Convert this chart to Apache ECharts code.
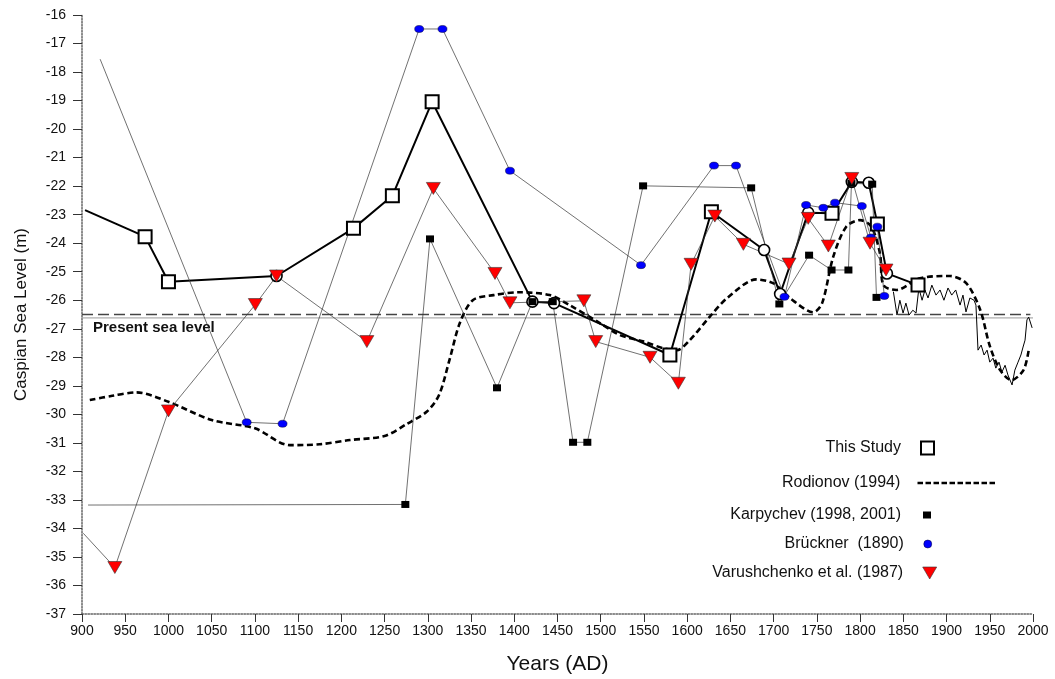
<!DOCTYPE html>
<html><head><meta charset="utf-8">
<script src="https://cdn.jsdelivr.net/npm/echarts@6/dist/echarts.min.js"></script>
<style>html,body{margin:0;padding:0;background:#fff}#chart{width:1055px;height:679px}</style>
</head><body><div id="chart"></div>
<script>
// ---------- data ----------
const yearTicks = { min: 900, max: 2000, step: 50 };
const levelTicks = { min: -37, max: -16, step: 1 };

const presentLevelDashed = -26.5;
const presentLevelThin = -26.62;

const thisStudyLeadIn = [903.5, -22.84];
const thisStudyYears  = [973, 1000, 1125, 1214, 1259, 1305, 1421, 1446, 1580, 1628, 1689, 1707.5, 1740, 1767.5, 1790.4, 1810, 1820, 1831, 1867];
const thisStudyLevels = [-23.77, -25.35, -25.15, -23.48, -22.34, -19.04, -26.05, -26.1, -27.92, -22.9, -24.24, -25.78, -22.93, -22.95, -21.85, -21.88, -23.33, -25.06, -25.47];
const thisStudyType   = ['S','S','C','S','S','S','C','C','S','S','C','C','C','S','C','C','S','C','S'];

const rodionovYears  = [909,935,963,1000,1050,1100,1140,1175,1210,1250,1275,1299,1313,1325,1337,1352,1376,1406,1441,1464,1499,1522,1550,1572,1588,1603,1626,1646,1680,1700,1719,1746,1756,1769,1784,1800,1813,1823,1827,1842,1869,1904,1923,1939,1950,1962,1975,1989,1995];
const rodionovLevels = [-29.5,-29.35,-29.23,-29.56,-30.2,-30.49,-31.08,-31.05,-30.9,-30.76,-30.35,-29.9,-29.32,-28.1,-26.8,-26.0,-25.82,-25.72,-25.82,-26.17,-26.8,-27.22,-27.45,-27.68,-27.75,-27.4,-26.58,-25.93,-25.27,-25.41,-25.93,-26.42,-26.11,-24.47,-23.42,-23.19,-23.42,-24.36,-25.47,-25.64,-25.23,-25.15,-25.41,-26.34,-27.6,-28.45,-28.8,-28.45,-27.75];

const karpychevLeadIn = [907, -33.18];
const karpychevYears  = [1274, 1302.5, 1380, 1421, 1444.5, 1468, 1484.5, 1549, 1674, 1706.6, 1741, 1767, 1786.5, 1790, 1814, 1819];
const karpychevLevels = [-33.16, -23.85, -29.07, -26.05, -26.05, -30.98, -30.98, -21.99, -22.06, -26.13, -24.42, -24.94, -24.94, -21.9, -21.93, -25.9];

const bruecknerLeadIn = [921, -17.55];
const bruecknerYears  = [1090.5, 1132, 1290, 1317, 1395, 1546.6, 1631, 1656.5, 1712.5, 1737.5, 1757.5, 1771, 1802, 1812.5, 1820, 1828];
const bruecknerLevels = [-30.28, -30.33, -16.49, -16.49, -21.46, -24.77, -21.28, -21.28, -25.88, -22.66, -22.76, -22.58, -22.7, -23.8, -23.42, -25.85];

const varushLeadIn = [901.5, -34.17];
const varushYears  = [938, 1000, 1100.5, 1125, 1229.5, 1306.4, 1377.7, 1395, 1480.5, 1494.2, 1557, 1589.8, 1604.5, 1632, 1665, 1717.8, 1740, 1763.3, 1790.4, 1811.5, 1830];
const varushLevels = [-35.37, -29.88, -26.15, -25.15, -27.45, -22.08, -25.06, -26.09, -26.02, -27.45, -28.0, -28.91, -24.74, -23.05, -24.04, -24.73, -23.13, -24.1, -21.73, -24.0, -24.94];

const instrumentalYears  = [1838.5,1842.7,1846,1849.7,1853,1856.6,1861,1864.7,1868,1871.7,1875,1878.6,1883,1887.8,1892.5,1897,1901.7,1906,1910.6,1915.6,1919,1922.5,1927,1931.8,1934,1936.4,1940,1943.4,1946.9,1950,1953.8,1957,1960.7,1964,1967.7,1971,1975.8,1979,1982.7,1986,1988.5,1990.8,1993,1995,1999];
const instrumentalLevels = [-25.7,-26.52,-26.0,-26.45,-26.1,-26.52,-26.35,-26.45,-25.57,-26.0,-25.64,-25.92,-25.47,-25.82,-25.64,-26.0,-25.57,-25.82,-25.64,-26.17,-25.82,-26.41,-25.92,-26.0,-26.17,-27.75,-27.57,-27.92,-27.75,-28.17,-28.03,-28.38,-28.17,-28.52,-28.28,-28.62,-28.97,-28.45,-28.17,-27.92,-27.64,-27.4,-26.69,-26.59,-26.97];

// ---------- build ----------
const FONT = '"Liberation Sans", Arial, sans-serif';
const zip = (xs, ys) => xs.map((x, i) => [x, ys[i]]);
const withLeadIn = (lead, xs, ys) => [{ value: lead, symbol: 'none' }].concat(zip(xs, ys));

const typeSymbol = { S: 'rect', C: 'circle' };
const typeSize = { S: 13, C: 11 };
const thisStudyData = [{ value: thisStudyLeadIn, symbol: 'none' }].concat(
  thisStudyYears.map((y, i) => ({
    value: [y, thisStudyLevels[i]],
    symbol: typeSymbol[thisStudyType[i]],
    symbolSize: typeSize[thisStudyType[i]],
    itemStyle: { borderWidth: thisStudyType[i] === 'S' ? 2 : 1.6 }
  }))
);

let dashPath = 'path://';
for (let i = 0; i < 10; i++) { const x = i * 8; dashPath += `M${x},0L${x + 5.5},0L${x + 5.5},2.5L${x},2.5Z`; }

const legendBase = {
  orient: 'vertical', align: 'right', padding: 0, selectedMode: false,
  textStyle: { fontSize: 16, color: '#111', fontFamily: FONT }
};

const chart = echarts.init(document.getElementById('chart'));
chart.setOption({
  animation: false,
  backgroundColor: '#fff',
  grid: { left: 82, right: 22, top: 15, bottom: 65, containLabel: false, outerBoundsMode: 'none' },
  xAxis: {
    type: 'value', min: yearTicks.min, max: yearTicks.max, interval: yearTicks.step,
    name: 'Years (AD)', nameLocation: 'middle', nameGap: 40,
    nameTextStyle: { fontSize: 21, color: '#111', fontFamily: FONT },
    axisLine: { show: true, onZero: false, lineStyle: { color: '#666', width: 1.5, type: 'dotted' } },
    axisTick: { show: true, length: 8, lineStyle: { color: '#333', width: 1 } },
    axisLabel: { fontSize: 14, color: '#111', fontFamily: FONT, margin: 10, formatter: v => String(v) },
    splitLine: { show: false }
  },
  yAxis: {
    type: 'value', min: levelTicks.min, max: levelTicks.max, interval: levelTicks.step,
    name: 'Caspian Sea Level (m)', nameLocation: 'middle', nameGap: 52, nameRotate: 90,
    nameTextStyle: { fontSize: 17, color: '#111', fontFamily: FONT },
    axisLine: { show: true, onZero: false, lineStyle: { color: '#666', width: 1.5, type: 'dotted' } },
    axisTick: { show: true, length: 9, lineStyle: { color: '#333', width: 1 } },
    axisLabel: { fontSize: 14, color: '#111', fontFamily: FONT, margin: 16, formatter: v => String(v) },
    splitLine: { show: false }
  },
  legend: [
    Object.assign({}, legendBase, { right: 120, top: 440, itemWidth: 43, itemHeight: 13,
      data: [{ name: 'This Study', icon: 'path://M0,0L10,0L10,10L0,10Z', itemStyle: { color: '#fff', borderColor: '#000', borderWidth: 2 } }] }),
    Object.assign({}, legendBase, { right: 60, top: 475, itemWidth: 102, itemHeight: 2.5,
      data: [{ name: 'Rodionov (1994)', icon: dashPath, itemStyle: { color: '#000', borderWidth: 0 } }] }),
    Object.assign({}, legendBase, { right: 124, top: 507, itemWidth: 42, itemHeight: 7,
      data: [{ name: 'Karpychev (1998, 2001)', icon: 'path://M0,0L8,0L8,7L0,7Z', itemStyle: { color: '#000', borderWidth: 0 } }] }),
    Object.assign({}, legendBase, { right: 123, top: 536, itemWidth: 38, itemHeight: 8,
      data: [{ name: 'Brückner  (1890)', icon: 'circle', itemStyle: { color: '#0000ff', borderColor: '#000033', borderWidth: 0.5 } }] }),
    Object.assign({}, legendBase, { right: 118, top: 565, itemWidth: 43, itemHeight: 12,
      data: [{ name: 'Varushchenko et al. (1987)', icon: 'path://M0,0L14,0L7,12Z', itemStyle: { color: '#ff0000', borderColor: '#333', borderWidth: 0.6 } }] })
  ],
  graphic: [{
    type: 'text', left: 93, top: 320,
    style: { text: 'Present sea level', fontSize: 15, fontWeight: 'bold', fill: '#111', fontFamily: FONT }
  }],
  series: [
    { name: 'present-thin', type: 'line', symbol: 'none', silent: true,
      data: [[yearTicks.min, presentLevelThin], [yearTicks.max, presentLevelThin]],
      lineStyle: { color: '#999', width: 1 } },
    { name: 'present-dashed', type: 'line', symbol: 'none', silent: true,
      data: [[yearTicks.min, presentLevelDashed], [1997, presentLevelDashed]],
      lineStyle: { color: '#444', width: 1.6, type: [11, 5] } },
    { name: 'instrumental', type: 'line', symbol: 'none',
      data: zip(instrumentalYears, instrumentalLevels),
      lineStyle: { color: '#000', width: 1 } },
    { name: 'Rodionov (1994)', type: 'line', symbol: 'none', smooth: 0.3,
      data: zip(rodionovYears, rodionovLevels),
      lineStyle: { color: '#000', width: 2.6, type: [6, 3.5] } },
    { name: 'This Study', type: 'line', data: thisStudyData, showAllSymbol: true,
      lineStyle: { color: '#000', width: 2 },
      itemStyle: { color: '#fff', borderColor: '#000', borderWidth: 2 } },
    { name: 'Karpychev (1998, 2001)', type: 'line', data: withLeadIn(karpychevLeadIn, karpychevYears, karpychevLevels),
      symbol: 'rect', symbolSize: [8, 7], showAllSymbol: true,
      lineStyle: { color: '#333', width: 0.7 }, itemStyle: { color: '#000' } },
    { name: 'Brückner  (1890)', type: 'line', data: withLeadIn(bruecknerLeadIn, bruecknerYears, bruecknerLevels),
      symbol: 'circle', symbolSize: [9, 7], showAllSymbol: true,
      lineStyle: { color: '#333', width: 0.7 }, itemStyle: { color: '#0000ff', borderColor: '#000033', borderWidth: 0.5 } },
    { name: 'Varushchenko et al. (1987)', type: 'line', data: withLeadIn(varushLeadIn, varushYears, varushLevels),
      symbol: 'triangle', symbolRotate: 180, symbolSize: [14, 12], showAllSymbol: true,
      lineStyle: { color: '#333', width: 0.7 }, itemStyle: { color: '#ff0000', borderColor: '#333', borderWidth: 0.6 } }
  ]
});
</script>
</body></html>
